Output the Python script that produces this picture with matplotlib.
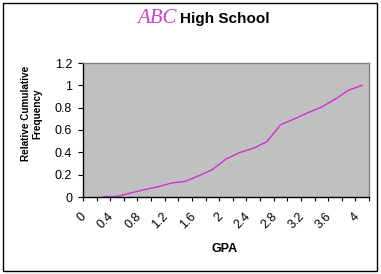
import numpy as np
import matplotlib
matplotlib.use('Agg')
import matplotlib.pyplot as plt
from matplotlib.patches import Rectangle
from matplotlib.transforms import ScaledTranslation

plt.rcParams['font.family'] = 'Liberation Sans'

W, H = 381, 274

# GPA categories (Excel category axis) and relative cumulative frequency
gpa = ['0', '0.2', '0.4', '0.6', '0.8', '1', '1.2', '1.4', '1.6', '1.8', '2',
       '2.2', '2.4', '2.6', '2.8', '3', '3.2', '3.4', '3.6', '3.8', '4']
rel_cum = [np.nan, 0.003, 0.005, 0.036, 0.065, 0.092, 0.125, 0.14, 0.19, 0.245, 0.34,
           0.398, 0.436, 0.495, 0.646, 0.698, 0.754, 0.804, 0.875, 0.957, 1.0]
shown = ['0', '0.4', '0.8', '1.2', '1.6', '2', '2.4', '2.8', '3.2', '3.6', '4']
yticks = [0, 0.2, 0.4, 0.6, 0.8, 1.0, 1.2]
ylabels = ['0', '0.2', '0.4', '0.6', '0.8', '1', '1.2']

def fx(px):
    return px / W

def fy(py):
    return 1 - py / H

fig = plt.figure(figsize=(W / 100, H / 100), dpi=100)
fig.patch.set_facecolor('white')

# outer chart border
fig.patches.append(Rectangle((fx(3), fy(271)), fx(374), (268) / H, transform=fig.transFigure,
                             fill=False, edgecolor='black', lw=1))

l, r, t, b = 83, 369, 63, 197
ax = fig.add_axes([fx(l), fy(b), fx(r - l), (b - t) / H])
ax.set_facecolor('#C0C0C0')

xpos = np.arange(len(gpa))
ax.plot(xpos, rel_cum, color='#CC33CC', lw=1)

ax.set_xlim(-0.5, len(gpa) - 0.5)
ax.set_ylim(0, 1.2)

for s in ['top', 'right']:
    ax.spines[s].set_color('#808080')
    ax.spines[s].set_linewidth(1)
for s in ['left', 'bottom']:
    ax.spines[s].set_color('black')
    ax.spines[s].set_linewidth(1)

ax.set_yticks(yticks)
ax.set_yticklabels(ylabels, fontsize=9)
ax.tick_params(axis='y', direction='out', length=3.6, width=0.8, pad=4.3, color='black')

# category boundaries as tick marks, labels on every other category
ax.set_xticks(np.arange(len(gpa) + 1) - 0.5)
ax.set_xticklabels([])
ax.tick_params(axis='x', which='major', direction='out', length=3, width=0.8)
lab_pos = [gpa.index(g) for g in shown]
ax.set_xticks(lab_pos, minor=True)
ax.set_xticklabels(shown, minor=True, fontsize=9, rotation=45, ha='right', va='center',
                   rotation_mode='anchor')
ax.tick_params(axis='x', which='minor', length=0, pad=13)
shift = ScaledTranslation(-5 / 100, 0, fig.dpi_scale_trans)
for lab in ax.get_xticklabels(minor=True):
    lab.set_transform(lab.get_transform() + shift)

fig.text(fx(225), fy(249), 'GPA', fontsize=9, fontweight='bold', ha='center', va='center')
fig.text(fx(31.5), fy(113.5), 'Relative Cumulative\nFrequency', fontsize=7.2, fontweight='bold',
         rotation=90, ha='center', va='center', linespacing=1.1)

# title: "ABC" in decorative magenta, "High School" bold
fig.text(fx(177), fy(23), 'ABC', fontsize=15, color='#CC44CC', family='Liberation Serif',
         style='italic', ha='right', va='baseline')
fig.text(fx(180), fy(23), 'High School', fontsize=11, fontweight='bold', ha='left', va='baseline')

fig.savefig('out.png', dpi=100)
